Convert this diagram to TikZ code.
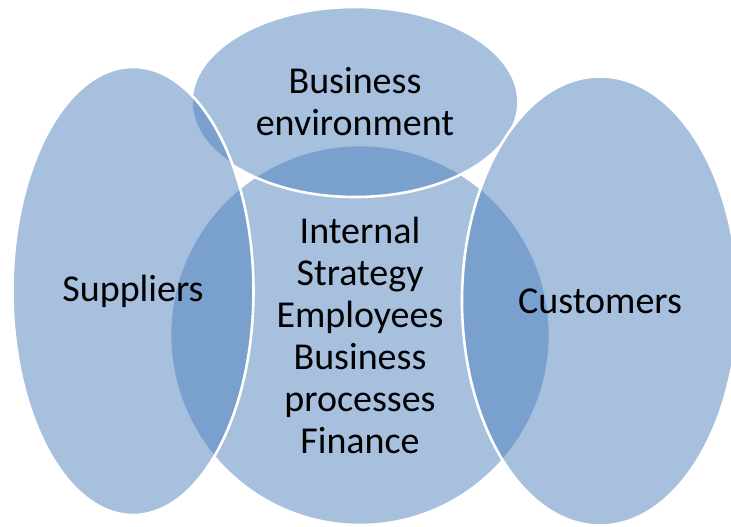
\documentclass[tikz,border=0pt]{standalone}
\usepackage{fontspec}
\setmainfont{Carlito}
\usetikzlibrary{shapes.geometric}
\definecolor{bubbleblue}{HTML}{4F81BD}
\tikzset{
  bubble/.style={ draw=white, line width=2.6pt, ellipse, fill=bubbleblue, fill opacity=0.5, text opacity=1, inner sep=0pt, align=center, font=\fontsize{38}{42}\selectfont }
}

\begin{document}
\begin{tikzpicture}[x=1pt, y=-1pt]
  \useasboundingbox (0, 0) rectangle (731, 527);
  \node[bubble, minimum width=380pt, minimum height=380pt] (internal) at (360, 335) {Internal\\Strategy\\Employees\\Business\\processes\\Finance};
  \node[bubble, minimum width=327pt, minimum height=190pt] (env) at (355, 102) {Business\\environment};
  \node[bubble, minimum width=241pt, minimum height=448pt] (sup) at (133, 291) {Suppliers};
  \node[bubble, minimum width=276pt, minimum height=449pt] (cust) at (600, 301) {Customers};
\end{tikzpicture}
\end{document}
